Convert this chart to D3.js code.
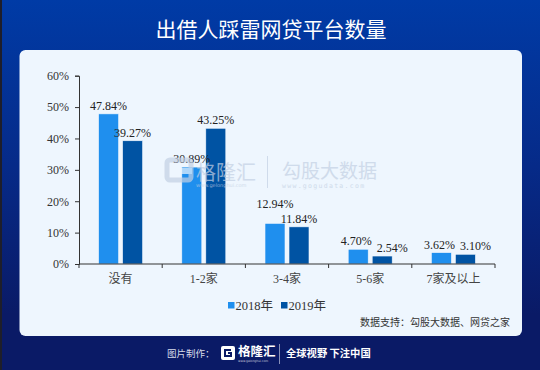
<!DOCTYPE html>
<html><head><meta charset="utf-8">
<script src="https://cdn.jsdelivr.net/npm/d3@7"></script>
<style>html,body{margin:0;padding:0;background:#0a1a66;}svg{display:block;}</style>
</head><body>
<script>
const categories = ["没有", "1-2家", "3-4家", "5-6家", "7家及以上"];
const series = ["2018年", "2019年"];
const values2018 = [47.84, 30.89, 12.94, 4.70, 3.62];
const values2019 = [39.27, 43.25, 11.84, 2.54, 3.10];
const yTicks = [0, 10, 20, 30, 40, 50, 60];
const colors = ["#1f8fee", "#0053a3"];
const title = "出借人踩雷网贷平台数量";
const source = "数据支持：勾股大数据、网贷之家";

const W = 540, H = 370;
const svg = d3.select("body").append("svg").attr("width", W).attr("height", H);
const defs = svg.append("defs");
const g = defs.append("linearGradient").attr("id","bg").attr("x1",0).attr("y1",0).attr("x2",0).attr("y2",1);
g.append("stop").attr("offset","0%").attr("stop-color","#003ba6");
g.append("stop").attr("offset","45%").attr("stop-color","#062a88");
g.append("stop").attr("offset","85%").attr("stop-color","#0a1a66");
g.append("stop").attr("offset","100%").attr("stop-color","#0a1a66");
svg.append("rect").attr("width",W).attr("height",H).attr("fill","url(#bg)");
svg.append("rect").attr("width",2).attr("height",H).attr("fill","#1e1e2a");

svg.append("text").attr("x",271).attr("y",37).attr("text-anchor","middle")
  .attr("fill","#fff").attr("font-family","'Noto Sans CJK SC'").attr("font-size",21).attr("font-weight",400)
  .text(title);

// panel
svg.append("rect").attr("x",19.5).attr("y",50).attr("width",502.5).attr("height",286).attr("rx",6)
  .attr("fill","#eef6fe");

const x0 = d3.scaleBand().domain(categories).range([79, 495]).paddingInner(0).paddingOuter(0);
const x1 = d3.scaleBand().domain(series).range([0, x0.bandwidth()]).paddingInner(0.167).paddingOuter(0.817);
const y = d3.scaleLinear().domain([0, 60]).range([264, 75.7]);

const serif = "'Liberation Serif','Noto Sans CJK SC'";
const data = categories.map((c,i)=>({c, vals:[values2018[i], values2019[i]]}));

// label layout: avoid collisions between the two labels of a category
data.forEach(d=>{
  const ys = d.vals.map(v=>y(v)-4);
  let dx = [0,0];
  if (Math.abs(ys[0]-ys[1]) < 14) {
    if (Math.max(...d.vals) > 8) {
      const hi = d.vals[0] >= d.vals[1] ? 0 : 1, lo = 1-hi;
      ys[hi] = Math.min(ys[hi], ys[lo]-15);
    } else {
      dx = [-2, 10];
    }
  }
  d.labels = d.vals.map((v,j)=>({v, s:series[j], j, ly:ys[j], dx:dx[j]}));
});

// bars
const cg = svg.append("g").selectAll("g").data(data).join("g").attr("transform",d=>`translate(${x0(d.c)},0)`);
cg.selectAll("rect").data(d=>d.vals.map((v,j)=>({v,s:series[j],j}))).join("rect")
  .attr("x",d=>x1(d.s)).attr("width",x1.bandwidth())
  .attr("y",d=>y(d.v)).attr("height",d=>y(0)-y(d.v))
  .attr("fill",d=>colors[d.j]).attr("stroke","#eef6fe").attr("stroke-width",0.6);

// watermark
const wm = svg.append("g").attr("opacity",0.7);
wm.append("rect").attr("x",167).attr("y",160).attr("width",24).attr("height",20).attr("rx",3).attr("fill","none").attr("stroke","#c3d0e3").attr("stroke-width",5);
wm.append("rect").attr("x",180).attr("y",168).attr("width",12).attr("height",6).attr("fill","#eef6fe");
wm.append("text").attr("x",196).attr("y",180).attr("font-family","'Noto Sans CJK SC'").attr("font-size",20).attr("fill","#c3d0e3").text("格隆汇");
wm.append("text").attr("x",196).attr("y",187).attr("font-family","'DejaVu Sans'").attr("font-size",5).attr("fill","#c3d0e3").text("www.gelonghui.com");
wm.append("line").attr("x1",267.5).attr("x2",267.5).attr("y1",156).attr("y2",188).attr("stroke","#c3d0e3");
wm.append("text").attr("x",282).attr("y",178).attr("font-family","'Noto Sans CJK SC'").attr("font-size",19).attr("fill","#c3d0e3").text("勾股大数据");
wm.append("text").attr("x",282).attr("y",187.5).attr("font-family","'DejaVu Sans Mono'").attr("font-size",6.5).attr("letter-spacing",1.3).attr("fill","#c3d0e3").text("www.gogudata.com");

// value labels
cg.selectAll("text").data(d=>d.labels).join("text")
  .attr("x",d=>x1(d.s)+x1.bandwidth()/2+d.dx).attr("y",d=>d.ly)
  .attr("text-anchor","middle").attr("font-family",serif).attr("font-size",12).attr("fill","#222")
  .text(d=>d.v.toFixed(2)+"%");

// axes
const yAxis = svg.append("g").attr("transform","translate(79,0)")
  .call(d3.axisLeft(y).tickValues(yTicks).tickSize(4).tickFormat(d=>d+"%"));
yAxis.select(".domain").attr("stroke","#333");
yAxis.selectAll(".tick line").attr("stroke","#333");
yAxis.selectAll("text").attr("font-family",serif).attr("font-size",12).attr("fill","#333").attr("x",-10);

const xAxis = svg.append("g").attr("transform","translate(0,264)");
xAxis.append("line").attr("x1",79).attr("x2",495).attr("stroke","#333");
const bounds = categories.map(c=>x0(c)).concat([x0(categories[categories.length-1])+x0.bandwidth()]);
xAxis.selectAll(".tk").data(bounds).join("line").attr("x1",d=>d).attr("x2",d=>d).attr("y1",0).attr("y2",4).attr("stroke","#333");
xAxis.selectAll("text").data(categories).join("text")
  .attr("x",d=>x0(d)+x0.bandwidth()/2).attr("y",19).attr("text-anchor","middle")
  .attr("font-family",serif).attr("font-size",12).attr("fill","#444").text(d=>d);

// legend
const lg = svg.append("g").selectAll("g").data(series).join("g")
  .attr("transform",(d,i)=>`translate(${228+i*53},0)`);
lg.append("rect").attr("x",0).attr("y",302).attr("width",6.5).attr("height",6.5).attr("fill",(d,i)=>colors[i]);
lg.append("text").attr("x",7.5).attr("y",309.5).attr("font-family",serif).attr("font-size",12.5).attr("fill","#333").text(d=>d);

svg.append("text").attr("x",510).attr("y",326).attr("text-anchor","end")
  .attr("font-family","'Noto Sans CJK SC'").attr("font-size",10).attr("fill","#333").text(source);

// footer
const f = svg.append("g");
f.append("text").attr("x",167).attr("y",356.5).attr("font-family","'Noto Sans CJK SC'").attr("font-size",9.5).attr("fill","#d8dcea").text("图片制作：");
f.append("rect").attr("x",221).attr("y",346).attr("width",14).attr("height",14).attr("rx",2).attr("fill","#fff");
f.append("path").attr("d","M231,350 H225 V356 H231 V353 H228").attr("fill","none").attr("stroke","#0a1a66").attr("stroke-width",2);
f.append("text").attr("x",238).attr("y",356).attr("font-family","'Noto Sans CJK SC'").attr("font-size",12.5).attr("font-weight",700).attr("fill","#fff").text("格隆汇");
f.append("text").attr("x",238).attr("y",362).attr("font-family","'DejaVu Sans'").attr("font-size",3).attr("fill","#ccd").text("www.gelonghui.com");
f.append("line").attr("x1",279.5).attr("x2",279.5).attr("y1",344).attr("y2",364).attr("stroke","#8890b8");
f.append("text").attr("x",286).attr("y",357).attr("font-family","'Noto Sans CJK SC'").attr("font-size",10.3).attr("font-weight",700).attr("fill","#fff").text("全球视野 下注中国");
</script>
</body></html>
